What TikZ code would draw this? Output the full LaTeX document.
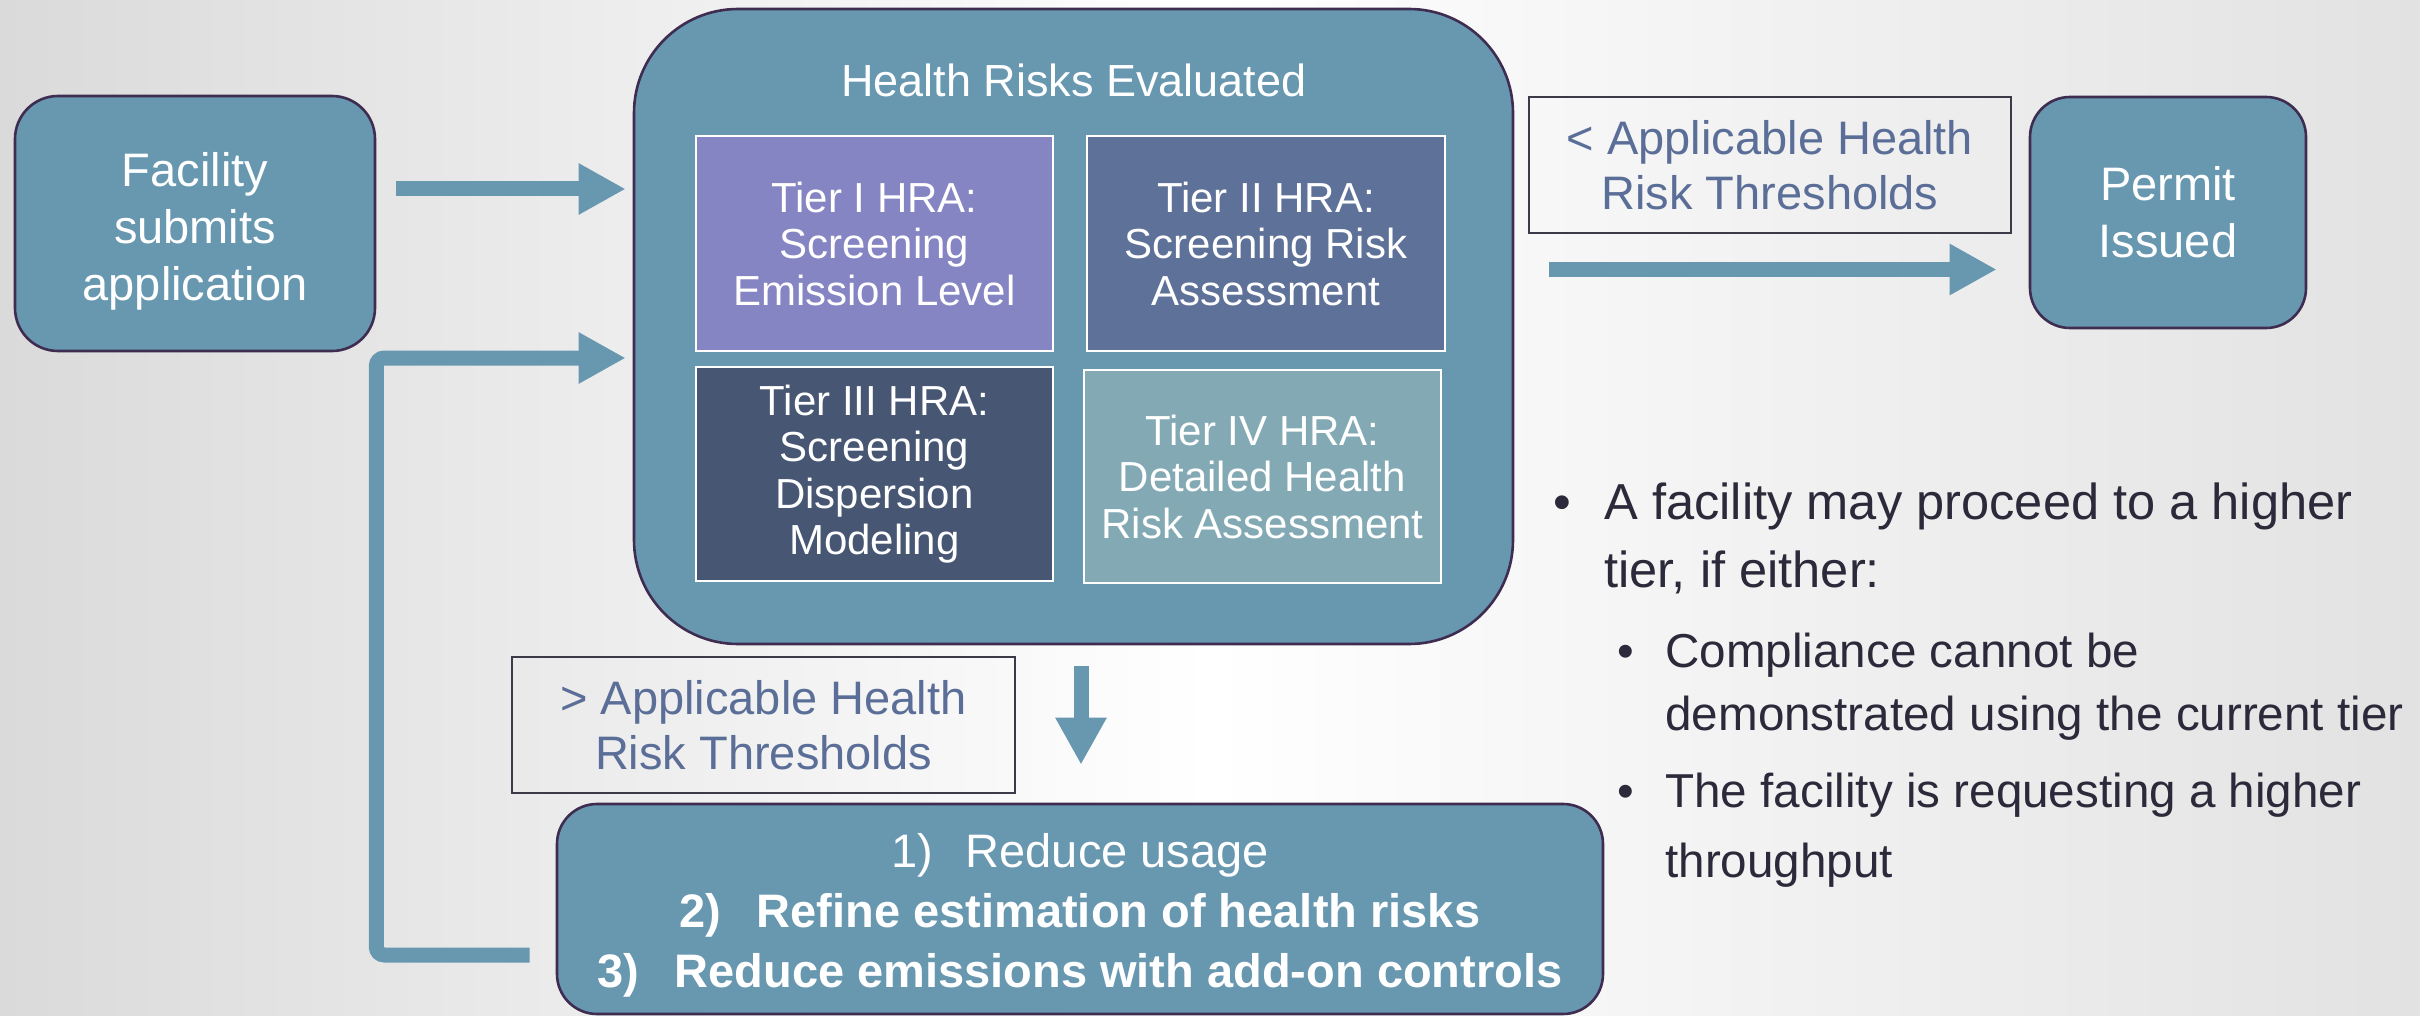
\documentclass[tikz,border=0pt]{standalone}
\usepackage{fontspec}
\setmainfont{Liberation Sans}
\usetikzlibrary{arrows.meta,calc}
\definecolor{boxblue}{HTML}{6897B0}
\definecolor{boxedge}{HTML}{3E2D50}
\definecolor{tierA}{HTML}{8685C4}
\definecolor{tierB}{HTML}{5E7198}
\definecolor{tierC}{HTML}{465673}
\definecolor{tierD}{HTML}{83AAB4}
\definecolor{labtext}{HTML}{5A6E98}
\definecolor{bultext}{HTML}{2C2A3A}
\definecolor{labedge}{HTML}{3A3A48}
\definecolor{bgL}{HTML}{DADADA}
\definecolor{bgR}{HTML}{E2E2E2}
\begin{document}
\begin{tikzpicture}[x=0.5pt,y=-0.5pt,
  flowbox/.style={draw=boxedge, line width=1.3pt, fill=boxblue, text=white, align=center, inner sep=0pt},
  tierbox/.style={draw=white, line width=1.2pt, text=white, align=center, inner sep=0pt,
    font=\fontsize{21}{23.25}\selectfont},
  labbox/.style={draw=labedge, line width=0.8pt, text=labtext, align=center, inner sep=0pt,
    font=\fontsize{23.5}{27.5}\selectfont},
  bigarrow/.style={draw=boxblue, line width=7.5pt, -{Triangle[length=23.5pt 0 0,width=24pt 0 0]}},
  bulmain/.style={anchor=base west, inner sep=0pt, text=bultext, font=\fontsize{25.3}{30}\selectfont},
  bulsub/.style={anchor=base west, inner sep=0pt, text=bultext, font=\fontsize{23.8}{28}\selectfont}
]
\useasboundingbox (0,0) rectangle (2420,1016);
\shade[left color=bgL, right color=bgR, middle color=white] (0,0) rectangle (2420,1016);

% nodes
\node[flowbox, rounded corners=21.5pt, minimum width=180pt, minimum height=127.5pt,
  font=\fontsize{23.5}{28.5}\selectfont] (fac) at (195,223.5)
  {\rule{0pt}{25pt}Facility\\submits\\application};
\node[flowbox, rounded corners=52pt, minimum width=439.5pt, minimum height=317.5pt] (hre) at (1073.5,326.5) {};
\node[text=white, inner sep=0pt, font=\fontsize{22.5}{27}\selectfont] (title) at (1074,80) {Health Risks Evaluated};
\node[tierbox, fill=tierA, minimum width=178.5pt, minimum height=107.5pt] (t1) at (874.5,243.5)
  {Tier I HRA:\\Screening\\Emission Level};
\node[tierbox, fill=tierB, minimum width=179pt, minimum height=107.5pt] (t2) at (1266,243.5)
  {Tier II HRA:\\Screening Risk\\Assessment};
\node[tierbox, fill=tierC, minimum width=178.5pt, minimum height=107pt] (t3) at (874.5,474)
  {Tier III HRA:\\Screening\\Dispersion\\Modeling};
\node[tierbox, fill=tierD, minimum width=178.5pt, minimum height=106.5pt] (t4) at (1262.5,476.5)
  {Tier IV HRA:\\Detailed Health\\Risk Assessment};
\node[labbox, minimum width=241pt, minimum height=68pt] (lab1) at (1770,165)
  {< Applicable Health\\Risk Thresholds};
\node[flowbox, rounded corners=20pt, minimum width=138pt, minimum height=115.5pt,
  font=\fontsize{23.5}{28.5}\selectfont] (permit) at (2168,212.5) {Permit\\Issued};
\node[labbox, minimum width=251.5pt, minimum height=68pt] (lab2) at (763.5,725)
  {> Applicable Health\\Risk Thresholds};
\node[flowbox, rounded corners=20pt, minimum width=523pt, minimum height=105pt,
  font=\fontsize{23.5}{30}\selectfont] (opts) at (1080,909)
  {\rule{0pt}{23.5pt}1)\hspace{0.7em}Reduce usage\\
   \textbf{2)\hspace{0.75em}Refine estimation of health risks}\\
   \textbf{3)\hspace{0.75em}Reduce emissions with add-on controls}};

% connectors
\draw[bigarrow, shorten <=10pt, shorten >=3.5pt] (fac.east |- 0,189) -- (hre.west |- 0,189);
\draw[bigarrow, rounded corners=4pt, shorten <=13pt, shorten >=3.5pt]
  (opts.west |- 0,955) -- (fac.east |- 0,955) -- (fac.east |- 0,358) -- (hre.west |- 0,358);
\draw[bigarrow, shorten <=17.5pt, shorten >=16pt] (hre.east |- 0,269.5) -- (permit.west |- 0,269.5);
\draw[bigarrow, shorten <=10.5pt, shorten >=19pt] (hre.south -| 1081,0) -- (opts.north -| 1081,0);

% bullets
\node[bulmain] (d1) at (1553,519) {•};
\node[bulmain] (b1a) at (1604,519) {A facility may proceed to a higher};
\node[bulmain] (b1b) at (1604,587) {tier, if either:};
\node[bulsub] (d2) at (1617,667) {•};
\node[bulsub] (b2a) at (1665,667) {Compliance cannot be};
\node[bulsub] (b2b) at (1665,730) {demonstrated using the current tier};
\node[bulsub] (d3) at (1617,807) {•};
\node[bulsub] (b3a) at (1665,807) {The facility is requesting a higher};
\node[bulsub] (b3b) at (1665,877) {throughput};
\end{tikzpicture}
\end{document}
